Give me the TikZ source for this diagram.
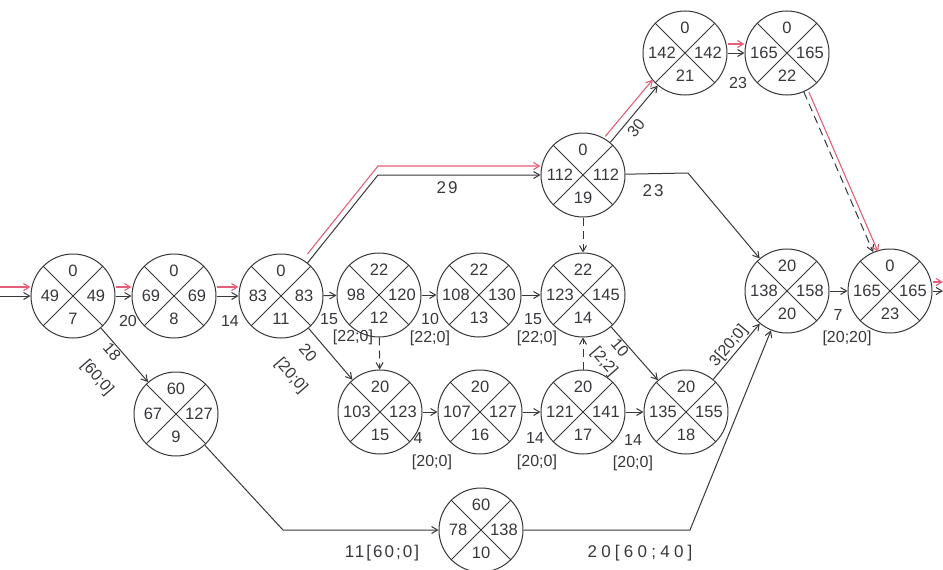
\documentclass[tikz,border=0pt]{standalone}
\usepackage{fontspec}
\setmainfont{Liberation Sans}
\usetikzlibrary{arrows.meta,calc}
\definecolor{ink}{RGB}{55,55,60}
\definecolor{crit}{RGB}{226,96,118}
\tikzset{
  ev/.style={circle,draw=ink,line width=1pt,minimum size=84pt,inner sep=0pt,
    path picture={\draw[ink,line width=1pt]
      (path picture bounding box.north west)--(path picture bounding box.south east)
      (path picture bounding box.north east)--(path picture bounding box.south west);}},
  num/.style={font=\fontsize{16.5}{18}\selectfont,text=ink,inner sep=0pt},
  lbl/.style={font=\fontsize{16}{18}\selectfont,text=ink,inner sep=0.5pt},
  widelbl/.style={font=\fontsize{17}{19}\selectfont\addfontfeatures{LetterSpace=12},text=ink,inner sep=0.5pt},
  arr/.style={draw=ink,line width=1pt,-{Straight Barb[length=6pt,width=7pt]}},
  dasharr/.style={arr,dash pattern=on 8pt off 5pt},
  critl/.style={draw=crit,line width=1.1pt,-{Straight Barb[length=6pt,width=7pt]}},
}
\newcommand\evnode[6]{%
  \node[ev] (#1) at (#2) {};
  \node[num] (#1t) at ([yshift=25pt]#1.center) {#3};
  \node[num] (#1l) at ([xshift=-23pt]#1.center) {#4};
  \node[num] (#1r) at ([xshift=23pt]#1.center) {#5};
  \node[num] (#1b) at ([yshift=-23pt]#1.center) {#6};
}
\begin{document}
\begin{tikzpicture}[x=1pt,y=-1pt]
\useasboundingbox (0,0) rectangle (943,570);
% events
\evnode{n7}{73,296}{0}{49}{49}{7}
\evnode{n8}{174,296}{0}{69}{69}{8}
\evnode{n11}{281,296}{0}{83}{83}{11}
\evnode{n12}{379,295}{22}{98}{120}{12}
\evnode{n13}{479,295}{22}{108}{130}{13}
\evnode{n14}{583,295}{22}{123}{145}{14}
\evnode{n19}{583,175}{0}{112}{112}{19}
\evnode{n21}{685,53}{0}{142}{142}{21}
\evnode{n22}{787,53}{0}{165}{165}{22}
\evnode{n20}{787,291}{20}{138}{158}{20}
\evnode{n23}{890,291}{0}{165}{165}{23}
\evnode{n9}{176,414}{60}{67}{127}{9}
\evnode{n15}{380,412}{20}{103}{123}{15}
\evnode{n16}{480,412}{20}{107}{127}{16}
\evnode{n17}{583,412}{20}{121}{141}{17}
\evnode{n18}{686,412}{20}{135}{155}{18}
\evnode{n10}{481,530}{60}{78}{138}{10}
% free ends and bends
\coordinate (in) at (0,296);
\coordinate (out) at (943,291);
\coordinate (b1) at (378,175);
\coordinate (b2) at (688,173);
\coordinate (b3) at (283,530);
\coordinate (b4) at (690,530);
% critical path (black + red)
\draw[arr] (in) -- (n7);
\draw[critl,transform canvas={yshift=9pt}] (in) -- (n7);
\draw[arr] (n7) -- (n8);
\draw[critl,transform canvas={yshift=9pt}] (n7) -- (n8);
\draw[arr] (n8) -- (n11);
\draw[critl,transform canvas={yshift=9pt}] (n8) -- (n11);
\draw[arr] (n11) -- (b1) -- (n19);
\draw[critl,transform canvas={yshift=9pt}] (n11) -- (b1) -- (n19);
\draw[arr] (n19) -- (n21);
\draw[critl,transform canvas={xshift=-5pt,yshift=6pt}] (n19) -- (n21);
\draw[arr] (n21) -- (n22);
\draw[critl,transform canvas={yshift=9pt}] (n21) -- (n22);
\draw[dasharr] (n22) -- (n23);
\draw[critl,transform canvas={xshift=5pt}] (n22) -- (n23);
\draw[arr] (n23) -- (out);
\draw[critl,transform canvas={yshift=9pt}] (n23) -- (out);
% other activities
\draw[arr] (n7) -- (n9);
\draw[arr] (n11) -- (n12);
\draw[arr] (n11) -- (n15);
\draw[arr] (n12) -- (n13);
\draw[arr] (n13) -- (n14);
\draw[dasharr] (n12) -- (n15);
\draw[dasharr] (n19) -- (n14);
\draw[dasharr] (n17) -- (n14);
\draw[arr] (n14) -- (n18);
\draw[arr] (n19) -- (b2) -- (n20);
\draw[arr] (n15) -- (n16);
\draw[arr] (n16) -- (n17);
\draw[arr] (n17) -- (n18);
\draw[arr] (n18) -- (n20);
\draw[arr] (n9) -- (b3) -- (n10);
\draw[arr] (n10) -- (b4) -- (n20);
\draw[arr] (n20) -- (n23);
% labels
\node[lbl] (l78) at (128,321) {20};
\node[lbl] (l811) at (230,321) {14};
\node[lbl,rotate=-49] (l79a) at (112,352) {18};
\node[lbl,rotate=-49] (l79b) at (97,378) {[60;0]};
\node[lbl] (l1112a) at (329,319) {15};
\node[lbl] (l1112b) at (353,337) {[22;0]};
\node[lbl,rotate=-49] (l1115a) at (308,353) {20};
\node[lbl,rotate=-49] (l1115b) at (291,376) {[20;0]};
\node[lbl] (l1213a) at (430,319) {10};
\node[lbl] (l1213b) at (430,338) {[22;0]};
\node[lbl] (l1314a) at (533,319) {15};
\node[lbl] (l1314b) at (537,338) {[22;0]};
\node[lbl,rotate=-49] (l1418a) at (620,348) {10};
\node[lbl,rotate=-49] (l1418b) at (604,362) {[2;2]};
\node[widelbl] (l1119) at (447,188) {29};
\node[widelbl] (l1920) at (653,191) {23};
\node[lbl,rotate=50] (l1921) at (636,128) {30};
\node[lbl] (l2122) at (738,83) {23};
\node[lbl] (l1516a) at (418,438) {4};
\node[lbl] (l1516b) at (432,462) {[20;0]};
\node[lbl] (l1617a) at (535,438) {14};
\node[lbl] (l1617b) at (537,462) {[20;0]};
\node[lbl] (l1718a) at (633,440) {14};
\node[lbl] (l1718b) at (633,463) {[20;0]};
\node[lbl,rotate=50] (l1820) at (729,346) {3[20;0]};
\node[widelbl] (l910) at (382,553) {11[60;0]};
\node[widelbl,font=\fontsize{17}{19}\selectfont\addfontfeatures{LetterSpace=25}] (l1020) at (640,553) {20[60;40]};
\node[lbl] (l2023a) at (838,315) {7};
\node[lbl] (l2023b) at (847,338) {[20;20]};
\end{tikzpicture}
\end{document}
